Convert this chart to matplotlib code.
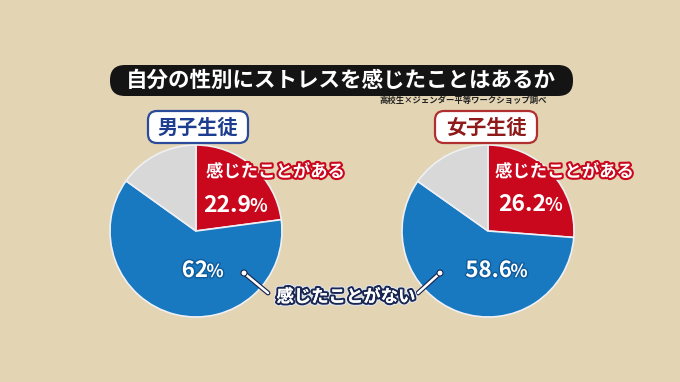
import matplotlib
matplotlib.use("Agg")
import matplotlib.pyplot as plt
import matplotlib.patheffects as pe
from matplotlib.patches import FancyBboxPatch, Circle

plt.rcParams['font.family'] = ['Noto Sans CJK JP', 'DejaVu Sans']

# data
title = "自分の性別にストレスを感じたことはあるか"
source = "高校生×ジェンダー平等ワークショップ調べ"
groups = ["男子生徒", "女子生徒"]
felt = [22.9, 26.2]        # 感じたことがある
not_felt = [62, 58.6]      # 感じたことがない
other = [15.1, 15.2]       # 無回答など (grey)
felt_label = "感じたことがある"
not_felt_label = "感じたことがない"

BG = "#e3d4b4"
RED = "#c9081d"
BLUE = "#1878c0"
GREY = "#d8d8d8"
H = 382


def Y(y):
    # pixel row -> data y
    return H - y


fig = plt.figure(figsize=(6.8, 3.82), dpi=100, facecolor=BG)
ax = fig.add_axes([0, 0, 1, 1])
ax.set_facecolor(BG)

centers = [(196, 231), (488, 231)]
radius = 86

for i, (cx, cy) in enumerate(centers):
    ax.pie([felt[i], not_felt[i], other[i]], colors=[RED, BLUE, GREY],
           startangle=90, counterclock=False, radius=radius,
           center=(cx, Y(cy)),
           wedgeprops=dict(edgecolor="#eef0f4", linewidth=1.2))

ax.set_xlim(0, 680)
ax.set_ylim(0, H)
ax.set_aspect("equal")
ax.axis("off")

# title bar
bar = FancyBboxPatch((110, Y(96)), 463, 31,
                     boxstyle="round,pad=0,rounding_size=15",
                     facecolor="#141414", edgecolor="none")
ax.add_patch(bar)
ax.text(341, Y(80), title, color="white", fontsize=15.5, fontweight="bold",
        ha="center", va="center")
ax.text(547, Y(100), source, color="#222222", fontsize=6, fontweight="bold",
        ha="right", va="center")

# group boxes
box_style = [("#1d3d8f", "#2a4a9a"), ("#8e1a1a", "#b03030")]
box_x = [(148, 248), (435, 537)]
for i, g in enumerate(groups):
    x0, x1 = box_x[i]
    tc, ec = box_style[i]
    ax.add_patch(FancyBboxPatch((x0, Y(143)), x1 - x0, 32,
                                boxstyle="round,pad=0,rounding_size=9",
                                facecolor="white", edgecolor=ec, linewidth=1.6))
    ax.text((x0 + x1) / 2, Y(127), g, color=tc, fontsize=14.5,
            fontweight="bold", ha="center", va="center")

red_stroke = [pe.withStroke(linewidth=3, foreground=RED)]
blue_stroke = [pe.withStroke(linewidth=2, foreground="#0e5c9c")]

# 感じたことがある labels
for x in [206, 495]:
    ax.text(x, Y(172), felt_label, color="white", fontsize=12.5,
            fontweight="bold", ha="left", va="center", path_effects=red_stroke)


def pct(x_split, base, value, size, effects):
    ax.text(x_split, Y(base), f"{value:g}", color="white", fontsize=size,
            fontweight="bold", ha="right", va="baseline", path_effects=effects)
    ax.text(x_split - 1.5, Y(base), "%", color="white", fontsize=size * 0.8,
            fontweight="bold", ha="left", va="baseline", path_effects=effects)


pct(251, 212, felt[0], 16.5, [])
pct(546, 211, felt[1], 16.5, [])
pct(208, 277, not_felt[0], 16, blue_stroke)
pct(512, 277, not_felt[1], 16, blue_stroke)

# 感じたことがない callout
navy = "#1a2750"
lines = [((244, 273), (268, 293)), ((440, 273), (418, 293))]
for (x0, y0), (x1, y1) in lines:
    ax.plot([x0, x1], [Y(y0), Y(y1)], color="white", linewidth=1.8,
            solid_capstyle="round",
            path_effects=[pe.withStroke(linewidth=3.5, foreground=navy)])
    ax.add_patch(Circle((x0, Y(y0)), 3, facecolor="white", edgecolor=navy,
                        linewidth=0.8, zorder=5))

ax.text(346, Y(297), not_felt_label, color="white", fontsize=12.5,
        fontweight="bold", ha="center", va="center",
        path_effects=[pe.withStroke(linewidth=4.5, foreground="#dfe6f2"),
                      pe.withStroke(linewidth=3, foreground=navy),
                      pe.Normal()])

fig.savefig("out.png", dpi=100, facecolor=BG)
